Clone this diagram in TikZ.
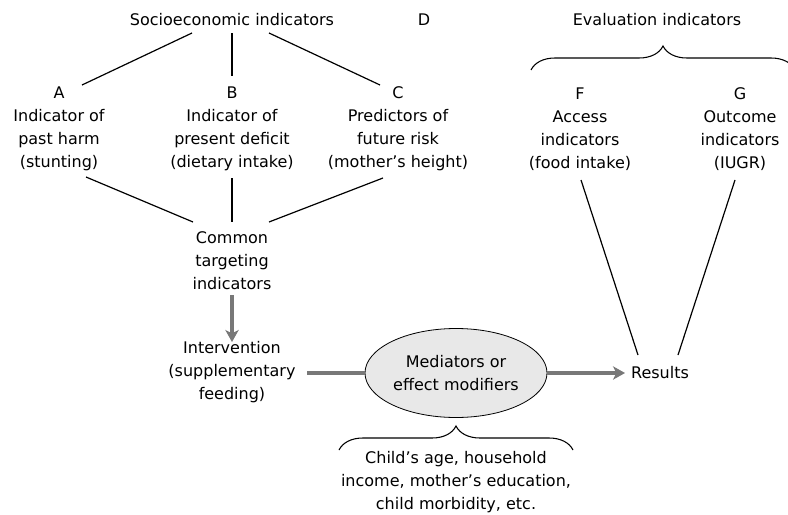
\documentclass[tikz,border=0pt]{standalone}
\usepackage{fontspec}
\setmainfont{DejaVu Sans}
\usetikzlibrary{calc,arrows.meta,shapes.geometric,decorations.pathreplacing}

\begin{document}
\begin{tikzpicture}[x=0.75pt,y=-0.75pt,
  lbl/.style={align=center,inner sep=0pt,outer sep=0pt,text=black,
    font=\fontsize{12}{17.25}\selectfont},
  link/.style={draw=black,line width=0.9pt},
  flow/.style={draw=flowColor,line width=3pt},
  flowtip/.style={flow,-{Stealth[length=9pt,width=10pt,inset=2.5pt]}},
  curly/.style={draw=black,line width=0.8pt,decorate,
    decoration={brace,amplitude=18pt,aspect=0.5}}]
\definecolor{fillColor}{RGB}{255,255,255}
\definecolor{flowColor}{RGB}{120,120,120}
\definecolor{ellipseColor}{RGB}{232,232,232}
\path[use as bounding box,fill=fillColor] (0,0) rectangle (788,514);

% upper row
\node[lbl] (socio) at (232,20) {Socioeconomic indicators};
\node[lbl] (letterD) at (424,20) {D};
\node[lbl] (evalind) at (657,20) {Evaluation indicators};

\node[lbl] (harm) at (59,129) {A\\Indicator of\\past harm\\(stunting)};
\node[lbl] (deficit) at (232,129) {B\\Indicator of\\present deficit\\(dietary intake)};
\node[lbl] (risk) at (398,129) {C\\Predictors of\\future risk\\(mother's height)};
\node[lbl] (access) at (580,129) {F\\Access\\indicators\\(food intake)};
\node[lbl] (outcome) at (740,129) {G\\Outcome\\indicators\\(IUGR)};

% lower part
\node[lbl] (common) at (232,261) {Common\\targeting\\indicators};
\node[lbl] (interv) at (232,372) {Intervention\\(supplementary\\feeding)};
\node[lbl,ellipse,draw=black,line width=0.6pt,fill=ellipseColor,
  minimum width=136.5pt,minimum height=66.75pt] (mediators) at (456,373) {Mediators or\\effect modifiers};
\node[lbl] (results) at (660,373) {Results};
\node[lbl] (modifiers) at (456,482) {Child's age, household\\income, mother's education,\\child morbidity, etc.};

% connectors
\draw[link] ($(socio)+(-40,13)$) -- ($(harm)+(23,-44)$);
\draw[link] ($(socio)+(0,13)$) -- ($(deficit)+(0,-53)$);
\draw[link] ($(socio)+(37,13)$) -- ($(risk)+(-18,-44)$);
\draw[link] ($(harm)+(27,48)$) -- ($(common)+(-39,-39)$);
\draw[link] ($(deficit)+(0,49)$) -- ($(common)+(0,-39)$);
\draw[link] ($(risk)+(-15,49)$) -- ($(common)+(37,-39)$);
\draw[link] ($(access)+(1,51)$) -- ($(results)+(-22,-18)$);
\draw[link] ($(outcome)+(-5,51)$) -- ($(results)+(18,-18)$);

\draw[flowtip] ($(common)+(0,34)$) -- ($(interv)+(0,-30)$);
\draw[flow] ($(interv)+(75,1)$) -- (mediators.west);
\draw[flowtip] (mediators.east) -- ($(results)+(-35,0)$);

% braces
\draw[curly] ($(evalind)+(-126,50)$) -- ($(evalind)+(138,50)$);
\draw[curly] ($(modifiers)+(-117,-32)$) -- ($(modifiers)+(117,-32)$);
\end{tikzpicture}
\end{document}
